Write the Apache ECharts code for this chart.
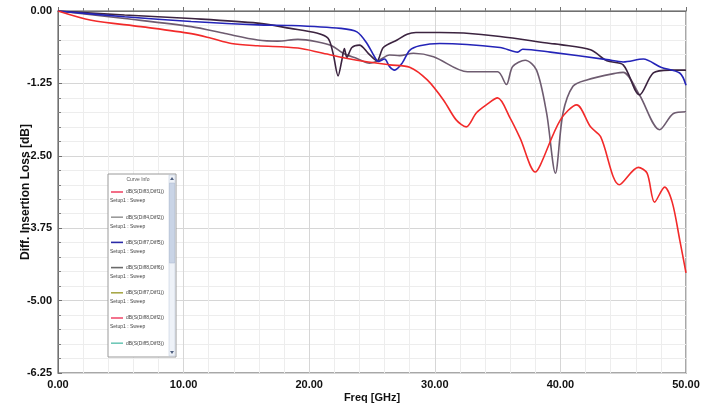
<!DOCTYPE html>
<html>
<head>
<meta charset="utf-8">
<script src="https://cdn.jsdelivr.net/npm/echarts@6/dist/echarts.min.js"></script>
<style>html,body{margin:0;padding:0;background:#fff;}#c{width:705px;height:407px;}</style>
</head>
<body>
<div id="c"></div>
<script>
// ---- data ----
const redFreq = [0,2.65,6.6,10.6,12.2,13.8,15.9,19.1,21.1,23.8,26.4,28.0,29.4,30.7,31.7,32.5,33.3,34.1,35.0,36.0,36.8,38.0,38.4,40.0,41.3,42.4,43.2,44.7,46.2,46.9,47.5,48.3,48.9,49.5,50.0];
const redVal  = [0,-0.16,-0.27,-0.39,-0.47,-0.56,-0.60,-0.64,-0.73,-0.85,-0.93,-0.97,-1.19,-1.54,-1.88,-2.0,-1.76,-1.62,-1.50,-1.85,-2.2,-2.78,-2.66,-1.88,-1.62,-2.0,-2.17,-3.0,-2.7,-2.8,-3.3,-3.04,-3.3,-3.95,-4.52];

const grayFreq = [0,5.3,10.6,13.3,15.9,17.5,19.1,20.6,21.8,22.7,23.8,24.8,25.5,26.4,27.2,28.3,29.9,32.6,35.0,35.7,36.2,37.2,38.1,38.9,39.6,40.2,41.0,42.1,44.5,45.0,46.3,47.9,49.0,50.0];
const grayVal  = [0,-0.13,-0.27,-0.39,-0.50,-0.52,-0.49,-0.53,-0.60,-0.73,-0.82,-0.90,-0.86,-0.76,-0.77,-0.73,-0.79,-1.05,-1.05,-1.27,-0.96,-0.85,-1.02,-1.76,-2.80,-1.77,-1.30,-1.19,-1.07,-1.06,-1.45,-2.05,-1.77,-1.74];

const darkFreq = [0,5.3,10.6,15.9,18.5,20.6,21.5,21.9,22.3,22.6,22.8,23.0,23.4,24.0,24.7,25.4,25.9,27.0,27.8,28.5,30.4,32.3,35.2,39.2,40.0,42.4,43.7,45.0,46.3,47.4,48.7,50.0];
const darkVal  = [0,-0.07,-0.13,-0.21,-0.30,-0.38,-0.47,-0.73,-1.12,-0.85,-0.65,-0.80,-0.63,-0.59,-0.73,-0.86,-0.63,-0.50,-0.40,-0.37,-0.37,-0.38,-0.44,-0.56,-0.58,-0.67,-0.86,-0.93,-1.45,-1.07,-1.02,-1.02];

const blueFreq = [0,5.3,10.6,15.9,18.5,22.5,23.8,24.6,25.2,25.5,26.0,26.4,26.8,27.4,28.0,28.8,30.4,35.2,36.6,37.0,39.2,43.7,45.0,46.6,48.0,49.5,50.0];
const blueVal  = [0,-0.10,-0.18,-0.24,-0.25,-0.30,-0.36,-0.56,-0.79,-0.87,-0.83,-0.96,-1.02,-0.90,-0.68,-0.60,-0.56,-0.63,-0.71,-0.66,-0.71,-0.84,-0.88,-0.83,-0.97,-1.07,-1.28];

const legendNames  = ['dB(S(Diff3,Diff1))','dB(S(Diff4,Diff2))','dB(S(Diff7,Diff5))','dB(S(Diff8,Diff6))','dB(S(Diff7,Diff1))','dB(S(Diff8,Diff2))','dB(S(Diff5,Diff3))'];
const legendSub = 'Setup1 : Sweep';
const legendColors = ['#f04a6a','#9a9a9a','#2a2aa8','#6a6a6a','#a8a848','#f05070','#70c8b8'];

const xTicks = {min:0, max:50, interval:10};
const yTicks = {min:-6.25, max:0, interval:1.25};

// ---- chart ----
function pairs(f, v){ return f.map((x,i)=>[x, v[i]]); }
const chart = echarts.init(document.getElementById('c'), null, {renderer:'canvas'});
const labelFont = {fontFamily:'"Liberation Sans Narrow","Liberation Sans",Arial,sans-serif', fontWeight:'bold', fontSize:11, color:'#111'};

const graphics = [];
const LX = 108, LY = 174, LW = 68, LH = 183;
graphics.push({type:'rect', shape:{x:LX, y:LY, width:LW, height:LH}, style:{fill:'#fff', stroke:'#9a9a9a', lineWidth:1}, z:100});
graphics.push({type:'rect', shape:{x:LX+LW-7, y:LY+1, width:6, height:LH-2}, style:{fill:'#eef2f8', stroke:'#b8c4d8', lineWidth:0.5}, z:101});
graphics.push({type:'rect', shape:{x:LX+LW-6.5, y:LY+9, width:5, height:80}, style:{fill:'#c9d4e6', stroke:'#a8b6cc', lineWidth:0.5}, z:102});
graphics.push({type:'polygon', shape:{points:[[LX+LW-6,LY+6],[LX+LW-2,LY+6],[LX+LW-4,LY+3]]}, style:{fill:'#506080'}, z:103});
graphics.push({type:'polygon', shape:{points:[[LX+LW-6,LY+LH-6],[LX+LW-2,LY+LH-6],[LX+LW-4,LY+LH-3]]}, style:{fill:'#506080'}, z:103});
graphics.push({type:'text', x:LX+30, y:LY+6, style:{text:'Curve Info', fill:'#555', font:'5px "Liberation Sans",Arial,sans-serif', textAlign:'center', textVerticalAlign:'middle'}, z:103});
legendNames.forEach((n,i)=>{
  const y = LY + 18 + i*25.2;
  graphics.push({type:'line', shape:{x1:LX+3, y1:y, x2:LX+15, y2:y}, style:{stroke:legendColors[i], lineWidth:1.6}, z:103});
  graphics.push({type:'text', x:LX+18, y:y, style:{text:n, fill:'#444', font:'5px "Liberation Sans",Arial,sans-serif', textVerticalAlign:'middle'}, z:103});
  if (i < legendNames.length-1)
    graphics.push({type:'text', x:LX+2, y:y+9, style:{text:legendSub, fill:'#444', font:'5px "Liberation Sans",Arial,sans-serif', textVerticalAlign:'middle'}, z:103});
});

const seriesDefs = [
  {name:legendNames[1], f:grayFreq, v:grayVal, c:'#6e5c70'},
  {name:legendNames[3], f:darkFreq, v:darkVal, c:'#3c2440'},
  {name:legendNames[2], f:blueFreq, v:blueVal, c:'#2424b8'},
  {name:legendNames[0], f:redFreq, v:redVal, c:'#f22a2a'}
];

chart.setOption({
  animation:false,
  backgroundColor:'#ffffff',
  grid:{left:58, right:19, top:11, bottom:34, containLabel:false, outerBoundsMode:'none', show:true, borderColor:'#8c8c8c', borderWidth:1.5, backgroundColor:'transparent'},
  xAxis:{type:'value', min:xTicks.min, max:xTicks.max, interval:xTicks.interval,
    name:'Freq [GHz]', nameLocation:'middle', nameGap:19, nameMoveOverlap:false,
    nameTextStyle:Object.assign({}, labelFont, {fontSize:11}),
    axisLine:{show:true, lineStyle:{color:'#707070', width:1}},
    axisTick:{show:true, inside:true, length:4, lineStyle:{color:'#707070'}},
    minorTick:{show:true, splitNumber:5, length:3, lineStyle:{color:'#808080'}},
    axisLabel:Object.assign({margin:6, formatter:v=>v.toFixed(2)}, labelFont),
    splitLine:{show:true, lineStyle:{color:'#d6d6d6', width:1}},
    minorSplitLine:{show:true, lineStyle:{color:'#ededed', width:1}}
  },
  yAxis:{type:'value', min:yTicks.min, max:yTicks.max, interval:yTicks.interval,
    name:'Diff. Insertion Loss [dB]', nameLocation:'middle', nameGap:26, nameRotate:90, nameMoveOverlap:false,
    nameTextStyle:{fontFamily:'"Liberation Sans",Arial,sans-serif', fontWeight:'bold', fontSize:12, color:'#111'},
    axisLine:{show:true, lineStyle:{color:'#707070', width:1}},
    axisTick:{show:true, inside:true, length:4, lineStyle:{color:'#707070'}},
    minorTick:{show:true, splitNumber:5, length:3, lineStyle:{color:'#808080'}},
    axisLabel:Object.assign({margin:6, formatter:v=>v.toFixed(2)}, labelFont),
    splitLine:{show:true, lineStyle:{color:'#d6d6d6', width:1}},
    minorSplitLine:{show:true, lineStyle:{color:'#ededed', width:1}}
  },
  series: seriesDefs.map(s=>({
    name:s.name, type:'line', data:pairs(s.f, s.v), showSymbol:false, smooth:0.3,
    lineStyle:{color:s.c, width:1.6}, itemStyle:{color:s.c}
  })),
  graphic: graphics
});
</script>
</body>
</html>
